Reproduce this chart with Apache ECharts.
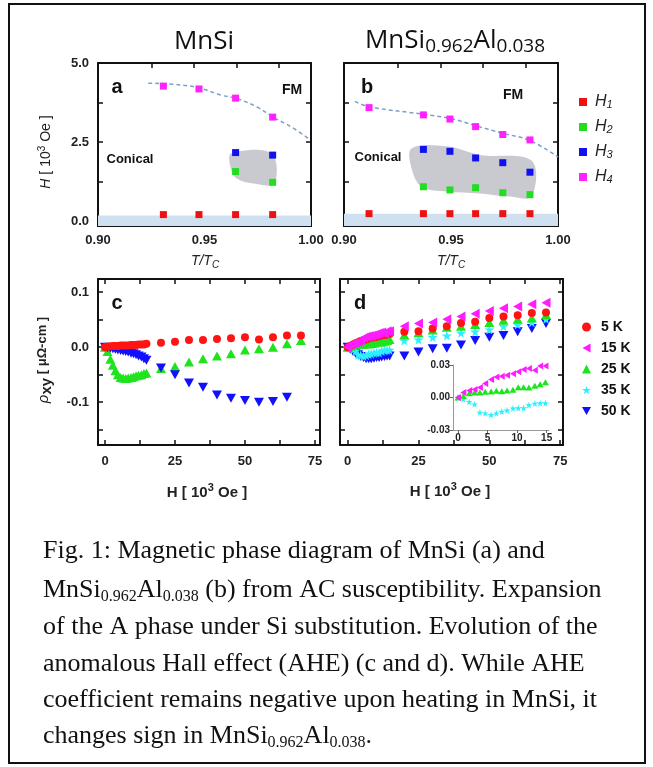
<!DOCTYPE html>
<html>
<head>
<meta charset="utf-8">
<script src="https://cdn.jsdelivr.net/npm/echarts@6/dist/echarts.min.js"></script>
<style>
  html, body { margin: 0; padding: 0; background: #fff; }
  #chart { width: 653px; height: 767px; }
</style>
</head>
<body>
<div id="chart"></div>
<script>
// ---- panel a : MnSi phase diagram ----
const tA = [0.9307, 0.9474, 0.9646, 0.982];
const aH1 = [0.21, 0.21, 0.21, 0.21];
const aH4 = [4.27, 4.18, 3.89, 3.29];
const tA2 = [0.9646, 0.982];
const aH2 = [1.57, 1.23];
const aH3 = [2.17, 2.09];
const aLineT = [0.9236, 0.935, 0.947, 0.958, 0.965, 0.975, 0.982, 0.9915, 0.9987];
const aLineH = [4.36, 4.33, 4.22, 3.98, 3.88, 3.6, 3.3, 2.95, 2.62];
const aPhaseT = [0.9626, 0.9814, 0.983, 0.9744, 0.965, 0.962];
const aPhaseH = [2.15, 2.15, 1.2, 1.18, 1.36, 1.78];
const aBand = 0.18;

// ---- panel b : MnSi0.962Al0.038 phase diagram ----
const tB = [0.9117, 0.9371, 0.9495, 0.9615, 0.9742, 0.9869];
const bH1 = [0.24, 0.24, 0.24, 0.24, 0.24, 0.24];
const bH4 = [3.59, 3.36, 3.23, 2.99, 2.74, 2.57];
const tB2 = [0.9371, 0.9495, 0.9615, 0.9742, 0.9869];
const bH2 = [1.09, 0.99, 1.06, 0.9, 0.84];
const bH3 = [2.27, 2.21, 2.0, 1.85, 1.55];
const bLineT = [0.9051, 0.9117, 0.937, 0.9495, 0.9615, 0.9742, 0.9869, 1.0];
const bLineH = [3.79, 3.62, 3.38, 3.25, 3.02, 2.78, 2.55, 2.03];
const bPhaseT = [0.9316, 0.9487, 0.9636, 0.9877, 0.9877, 0.9776, 0.9636, 0.948, 0.9363, 0.9316];
const bPhaseH = [2.31, 2.36, 2.09, 1.91, 0.78, 0.78, 0.88, 0.94, 1.09, 1.67];
const bBand = 0.24;

// ---- panels c, d : Hall resistivity ----
const hLow = [0, 0.9, 1.9, 2.8, 3.7, 4.6, 5.6, 6.5, 7.4, 8.3, 9.3, 10.2, 11.1, 12, 13, 13.9, 14.8];
const hHigh = [20, 25, 30, 35, 40, 45, 50, 55, 60, 65, 70];

const c5Low = [0, 0.001, 0.001, 0.002, 0.002, 0.002, 0.003, 0.003, 0.003, 0.003, 0.004, 0.004, 0.004, 0.005, 0.005, 0.005, 0.006];
const c5High = [0.008, 0.010, 0.013, 0.013, 0.015, 0.016, 0.018, 0.014, 0.018, 0.021, 0.021];
const c25Low = [0, -0.008, -0.022, -0.033, -0.043, -0.05, -0.055, -0.056, -0.057, -0.056, -0.055, -0.054, -0.052, -0.051, -0.05, -0.048, -0.047];
const c25High = [-0.039, -0.035, -0.027, -0.021, -0.016, -0.012, -0.005, -0.003, 0.0, 0.006, 0.012];
const c50Low = [0, -0.001, -0.002, -0.003, -0.004, -0.005, -0.006, -0.007, -0.008, -0.009, -0.011, -0.012, -0.014, -0.016, -0.018, -0.021, -0.024];
const c50High = [-0.038, -0.05, -0.065, -0.073, -0.087, -0.093, -0.097, -0.1, -0.099, -0.091];

const d5Low = [0, 0.002, 0.005, 0.007, 0.009, 0.011, 0.013, 0.014, 0.016, 0.017, 0.018, 0.019, 0.02, 0.021, 0.022, 0.023, 0.024];
const d5High = [0.028, 0.029, 0.034, 0.038, 0.044, 0.046, 0.053, 0.056, 0.058, 0.062, 0.063];
const d15Low = [0, 0.0046, 0.0065, 0.0074, 0.0092, 0.0129, 0.0166, 0.019, 0.0197, 0.0206, 0.022, 0.0237, 0.0258, 0.0268, 0.0252, 0.029, 0.029];
const d15High = [0.038, 0.043, 0.045, 0.051, 0.056, 0.061, 0.066, 0.071, 0.074, 0.078, 0.081];
const d25Low = [0, 0.0015, 0.004, 0.0046, 0.0046, 0.0052, 0.0055, 0.0062, 0.0058, 0.0065, 0.0071, 0.0095, 0.0095, 0.0092, 0.0108, 0.0123, 0.0141];
const d25High = [0.022, 0.026, 0.031, 0.036, 0.038, 0.041, 0.045, 0.049, 0.051, 0.053, 0.059];
const d35Low = [0, -0.0015, -0.004, -0.0062, -0.0138, -0.0145, -0.016, -0.0145, -0.013, -0.0118, -0.01, -0.0098, -0.0098, -0.007, -0.0055, -0.0052, -0.0052];
const d35High = [0.012, 0.0135, 0.018, 0.021, 0.026, 0.028, 0.032, 0.038, 0.041, 0.045, 0.051];
const d50Low = [0, -0.004, -0.008, -0.011, -0.014, -0.017, -0.019, -0.021, -0.021, -0.021, -0.02, -0.019, -0.019, -0.018, -0.017, -0.016, -0.016];
const d50High = [-0.016, -0.009, -0.003, -0.002, 0.004, 0.012, 0.018, 0.021, 0.028, 0.034, 0.043];

// tick labels
const tLabels = [0.9, 0.95, 1.0];
const tTicks = [0.925, 0.945, 0.965, 0.985];
const hLabels = [0, 2.5, 5];
const hTicks = [0, 1.25, 2.5, 3.75, 5];
const fLabels = [0, 25, 50, 75];
const fTicks = [0, 12.5, 25, 37.5, 50, 62.5, 75];
const rLabels = [-0.1, 0, 0.1];
const rTicks = [-0.15, -0.1, -0.05, 0, 0.05, 0.1];
const insetX = [0, 5, 10, 15];
const insetY = [-0.03, 0, 0.03];

const hNames = ['H1', 'H2', 'H3', 'H4'];
const kNames = ['5 K', '15 K', '25 K', '35 K', '50 K'];

const chart = echarts.init(document.getElementById('chart'));

const black = '#111';
const symDown = 'path://M0,0L10,0L5,9Z';
const symLeft = 'path://M9,0L9,10L0,5Z';
const symStar = 'path://M50,0L61,35L98,35L68,57L79,91L50,70L21,91L32,57L2,35L39,35Z';
const cols = { red: '#ff1414', green: '#1ee41e', blue: '#1010ff', mag: '#ff1cff', cyan: '#2eeeff' };

function zip(xs, ys) {
  return ys.map((y, i) => [xs[i], y]);
}

function axis(grid, pos, min, max, labels, ticks, fmt, showLabel, margin) {
  return {
    type: 'value', gridIndex: grid, position: pos, min: min, max: max,
    axisLine: { onZero: false, lineStyle: { color: black, width: 2 } },
    axisTick: { inside: true, length: 5, customValues: ticks, lineStyle: { color: black, width: 1.5 } },
    axisLabel: {
      show: showLabel, customValues: labels, formatter: fmt, margin: margin,
      fontFamily: 'Liberation Sans', fontWeight: 'bold', fontSize: 13, color: '#222'
    },
    splitLine: { show: false }
  };
}

const f2 = (v) => v.toFixed(2);
const f1 = (v) => v.toFixed(1);
const f0 = (v) => String(Math.round(v));

function phase(xi, yi, ts, hs) {
  return {
    type: 'custom', xAxisIndex: xi, yAxisIndex: yi, silent: true, z: 1,
    data: zip(ts, hs),
    renderItem: function (params, api) {
      if (params.dataIndex !== 0) return;
      const points = ts.map((t, i) => api.coord([t, hs[i]]));
      return { type: 'polygon', shape: { points: points, smooth: 0.35 }, style: { fill: '#c8cacf' } };
    }
  };
}

function dash(xi, yi, ts, hs) {
  return {
    type: 'line', xAxisIndex: xi, yAxisIndex: yi, smooth: 0.4, symbol: 'none', silent: true, z: 2,
    data: zip(ts, hs),
    lineStyle: { color: '#7b9fc7', width: 1.5, type: [4, 3] }
  };
}

function sq(name, xi, yi, ts, hs, color, band) {
  const s = {
    type: 'scatter', name: name, xAxisIndex: xi, yAxisIndex: yi, z: 3,
    symbol: 'rect', symbolSize: [7, 7], itemStyle: { color: color, opacity: 1 },
    data: zip(ts, hs)
  };
  if (band !== undefined) {
    s.markArea = { silent: true, itemStyle: { color: '#cfe1f1' }, data: [[{ yAxis: -0.15 }, { yAxis: band }]] };
  }
  return s;
}

function sc(name, xi, yi, data, color, symbol, size) {
  return {
    type: 'scatter', name: name, xAxisIndex: xi, yAxisIndex: yi, z: 3,
    symbol: symbol, symbolSize: size, itemStyle: { color: color, opacity: 1 },
    data: data
  };
}

const serif = 'Liberation Serif';
const capRich = {
  n: { fontFamily: serif, fontSize: 26, lineHeight: 28, verticalAlign: 'top', fill: '#111', color: '#111' },
  s: { fontFamily: serif, fontSize: 16, lineHeight: 12, verticalAlign: 'bottom', fill: '#111', color: '#111' }
};
const capLines = [
  '{n|Fig. 1: Magnetic phase diagram of MnSi (a) and}',
  '{n|MnSi}{s|0.962}{n|Al}{s|0.038}{n| (b) from AC susceptibility. Expansion}',
  '{n|of the A phase under Si substitution. Evolution of the}',
  '{n|anomalous Hall effect (AHE) (c and d). While AHE}',
  '{n|coefficient remains negative upon heating in MnSi, it}',
  '{n|changes sign in MnSi}{s|0.962}{n|Al}{s|0.038}{n|.}'
];
const capY = [552, 591, 628, 665, 701, 737];

function txt(x, y, text, size, opts) {
  return {
    type: 'text', x: x, y: y, rotation: (opts && opts.rotation) || 0, silent: true,
    style: Object.assign({
      text: text, fontFamily: 'Liberation Sans', fontSize: size, fontWeight: 'bold',
      fill: '#111', align: 'center', verticalAlign: 'middle', textAlign: 'center', textVerticalAlign: 'middle'
    }, (opts && opts.style) || {})
  };
}

const graphics = [
  { type: 'rect', shape: { x: 9, y: 4, width: 636, height: 759 }, style: { fill: 'none', stroke: '#111', lineWidth: 2 }, silent: true },
  txt(204, 42, 'MnSi', 26, { style: { fontFamily: 'Open Sans', fontWeight: 'normal' } }),
  txt(455, 42, '{m|MnSi}{s|0.962}{m|Al}{s|0.038}', 26, { style: { rich: {
    m: { fontFamily: 'Open Sans', fontSize: 26, lineHeight: 28, verticalAlign: 'top', fill: '#111' },
    s: { fontFamily: 'Open Sans', fontSize: 19, lineHeight: 12, verticalAlign: 'bottom', fill: '#111' }
  } } }),
  txt(117, 87, 'a', 20), txt(367, 87, 'b', 20), txt(117, 303, 'c', 20), txt(360, 303, 'd', 20),
  txt(292, 90, 'FM', 14), txt(513, 95, 'FM', 14),
  txt(130, 159, 'Conical', 13), txt(378, 157, 'Conical', 13),
  txt(253, 171, 'A', 14), txt(472, 174, 'A', 14),
  txt(45, 152, '{i|H}{r| [ 10}{p|3}{r| Oe ]}', 14, { rotation: Math.PI / 2, style: { rich: {
    i: { fontFamily: 'Liberation Sans', fontStyle: 'italic', fontSize: 14, lineHeight: 16, verticalAlign: 'bottom', fill: '#222' },
    r: { fontFamily: 'Liberation Sans', fontSize: 14, lineHeight: 16, verticalAlign: 'bottom', fill: '#222' },
    p: { fontFamily: 'Liberation Sans', fontSize: 10, lineHeight: 10, verticalAlign: 'top', fill: '#222' }
  } } }),
  txt(205, 262, '{i|T/T}{s|C}', 14, { style: { rich: {
    i: { fontFamily: 'Liberation Sans', fontStyle: 'italic', fontSize: 14, lineHeight: 16, verticalAlign: 'top', fill: '#222' },
    s: { fontFamily: 'Liberation Sans', fontStyle: 'italic', fontSize: 10, lineHeight: 8, verticalAlign: 'bottom', fill: '#222' }
  } } }),
  txt(451, 262, '{i|T/T}{s|C}', 14, { style: { rich: {
    i: { fontFamily: 'Liberation Sans', fontStyle: 'italic', fontSize: 14, lineHeight: 16, verticalAlign: 'top', fill: '#222' },
    s: { fontFamily: 'Liberation Sans', fontStyle: 'italic', fontSize: 10, lineHeight: 8, verticalAlign: 'bottom', fill: '#222' }
  } } }),
  txt(45, 360, '{g|ρ}{x|xy}{r| [ μΩ-cm ]}', 14, { rotation: Math.PI / 2, style: { rich: {
    g: { fontFamily: 'Liberation Sans', fontStyle: 'italic', fontSize: 15, lineHeight: 18, verticalAlign: 'top', fill: '#222' },
    x: { fontFamily: 'Liberation Sans', fontWeight: 'bold', fontSize: 15, lineHeight: 10, verticalAlign: 'bottom', fill: '#222' },
    r: { fontFamily: 'Liberation Sans', fontWeight: 'bold', fontSize: 13, lineHeight: 18, verticalAlign: 'top', fill: '#222' }
  } } })
];
[[207, 491], [450, 490]].forEach((p) => {
  graphics.push(txt(p[0], p[1], '{r|H [ 10}{p|3}{r| Oe ]}', 15, { style: { rich: {
    r: { fontFamily: 'Liberation Sans', fontWeight: 'bold', fontSize: 15, lineHeight: 18, verticalAlign: 'bottom', fill: '#222' },
    p: { fontFamily: 'Liberation Sans', fontWeight: 'bold', fontSize: 11, lineHeight: 11, verticalAlign: 'top', fill: '#222' }
  } } }));
});
capLines.forEach((line, i) => {
  graphics.push({
    type: 'text', x: 43, y: capY[i], silent: true,
    style: { text: line, rich: capRich, fontFamily: serif, fontSize: 26, fill: '#111', align: 'left', verticalAlign: 'middle', textAlign: 'left', textVerticalAlign: 'middle' }
  });
});

const option = {
  animation: false,
  backgroundColor: '#fff',
  grid: [
    { left: 98, top: 63, width: 213, height: 163, outerBoundsMode: 'none' },
    { left: 344, top: 63, width: 214, height: 163, outerBoundsMode: 'none' },
    { left: 98, top: 279, width: 222, height: 166, outerBoundsMode: 'none' },
    { left: 340, top: 279, width: 223, height: 166, outerBoundsMode: 'none' },
    { left: 453, top: 365, width: 96, height: 65, outerBoundsMode: 'none' }
  ],
  xAxis: [
    axis(0, 'bottom', 0.9, 1.0, tLabels, tTicks, f2, true, 8),
    axis(0, 'top', 0.9, 1.0, tLabels, tTicks, f2, false, 8),
    axis(1, 'bottom', 0.9, 1.0, tLabels, tTicks, f2, true, 8),
    axis(1, 'top', 0.9, 1.0, tLabels, tTicks, f2, false, 8),
    axis(2, 'bottom', -2.5, 76.8, fLabels, fTicks, f0, true, 10),
    axis(2, 'top', -2.5, 76.8, fLabels, fTicks, f0, false, 10),
    axis(3, 'bottom', -2.7, 76, fLabels, fTicks, f0, true, 10),
    axis(3, 'top', -2.7, 76, fLabels, fTicks, f0, false, 10),
    {
      type: 'value', gridIndex: 4, position: 'bottom', min: -0.85, max: 15.4,
      axisLine: { onZero: false, lineStyle: { color: '#999', width: 1 } },
      axisTick: { customValues: insetX, length: 3, lineStyle: { color: '#666' } },
      axisLabel: { customValues: insetX, formatter: f0, margin: 3, fontFamily: 'Liberation Sans', fontWeight: 'bold', fontSize: 10, color: '#222' },
      splitLine: { show: false }
    }
  ],
  yAxis: [
    axis(0, 'left', -0.15, 5.0, hLabels, hTicks, f1, true, 9),
    axis(0, 'right', -0.15, 5.0, hLabels, hTicks, f1, false, 9),
    axis(1, 'left', -0.15, 5.0, hLabels, hTicks, f1, false, 9),
    axis(1, 'right', -0.15, 5.0, hLabels, hTicks, f1, false, 9),
    axis(2, 'left', -0.178, 0.124, rLabels, rTicks, f1, true, 9),
    axis(2, 'right', -0.178, 0.124, rLabels, rTicks, f1, false, 9),
    axis(3, 'left', -0.178, 0.124, rLabels, rTicks, f1, false, 9),
    axis(3, 'right', -0.178, 0.124, rLabels, rTicks, f1, false, 9),
    {
      type: 'value', gridIndex: 4, position: 'left', min: -0.03, max: 0.03,
      axisLine: { onZero: false, lineStyle: { color: '#999', width: 1 } },
      axisTick: { customValues: insetY, length: 3, lineStyle: { color: '#666' } },
      axisLabel: { customValues: insetY, formatter: f2, margin: 3, fontFamily: 'Liberation Sans', fontWeight: 'bold', fontSize: 10, color: '#222' },
      splitLine: { show: false }
    }
  ],
  legend: [
    {
      orient: 'vertical', left: 574, top: 89, itemWidth: 8, itemHeight: 8, itemGap: 9,
      icon: 'rect', selectedMode: false, data: hNames,
      formatter: (name) => '{i|H}{s|' + name.slice(1) + '}',
      textStyle: { padding: [0, 0, 0, 3], lineHeight: 16, rich: {
        i: { fontFamily: 'Liberation Sans', fontStyle: 'italic', fontSize: 16, lineHeight: 16, verticalAlign: 'top', color: '#222' },
        s: { fontFamily: 'Liberation Sans', fontStyle: 'italic', fontSize: 11, lineHeight: 8, verticalAlign: 'bottom', color: '#222' }
      } }
    },
    {
      orient: 'vertical', left: 577, top: 315, itemWidth: 9, itemHeight: 9, itemGap: 7,
      selectedMode: false, data: kNames,
      textStyle: { padding: [0, 0, 0, 5], lineHeight: 14, fontFamily: 'Liberation Sans', fontWeight: 'bold', fontSize: 14, color: '#111' }
    }
  ],
  graphic: graphics,
  series: [
    // panel a
    phase(0, 0, aPhaseT, aPhaseH),
    dash(0, 0, aLineT, aLineH),
    sq('H1', 0, 0, tA, aH1, '#ee1111', aBand),
    sq('H2', 0, 0, tA2, aH2, '#22dd22'),
    sq('H3', 0, 0, tA2, aH3, '#1111ee'),
    sq('H4', 0, 0, tA, aH4, '#ff22ff'),
    // panel b
    phase(2, 2, bPhaseT, bPhaseH),
    dash(2, 2, bLineT, bLineH),
    sq('H1', 2, 2, tB, bH1, '#ee1111', bBand),
    sq('H2', 2, 2, tB2, bH2, '#22dd22'),
    sq('H3', 2, 2, tB2, bH3, '#1111ee'),
    sq('H4', 2, 2, tB, bH4, '#ff22ff'),
    // panel c
    sc('25 K', 4, 4, zip(hLow, c25Low).concat(zip(hHigh, c25High)), cols.green, 'triangle', [10, 9]),
    sc('50 K', 4, 4, zip(hLow, c50Low).concat(zip(hHigh, c50High)), cols.blue, symDown, [10, 9]),
    sc('5 K', 4, 4, zip(hLow, c5Low).concat(zip(hHigh, c5High)), cols.red, 'circle', 8),
    // panel d
    sc('50 K', 6, 6, zip(hLow, d50Low).concat(zip(hHigh, d50High)), cols.blue, symDown, [10, 9]),
    sc('35 K', 6, 6, zip(hLow, d35Low).concat(zip(hHigh, d35High)), cols.cyan, symStar, 10),
    sc('25 K', 6, 6, zip(hLow, d25Low).concat(zip(hHigh, d25High)), cols.green, 'triangle', [10, 9]),
    sc('5 K', 6, 6, zip(hLow, d5Low).concat(zip(hHigh, d5High)), cols.red, 'circle', 8),
    sc('15 K', 6, 6, zip(hLow, d15Low).concat(zip(hHigh, d15High)), cols.mag, symLeft, [9, 10]),
    // inset of d
    sc('35 K', 8, 8, zip(hLow, d35Low), cols.cyan, symStar, 7),
    sc('25 K', 8, 8, zip(hLow, d25Low), cols.green, 'triangle', [7, 6]),
    sc('15 K', 8, 8, zip(hLow, d15Low), cols.mag, symLeft, [6, 7])
  ]
};

chart.setOption(option);
</script>
</body>
</html>
